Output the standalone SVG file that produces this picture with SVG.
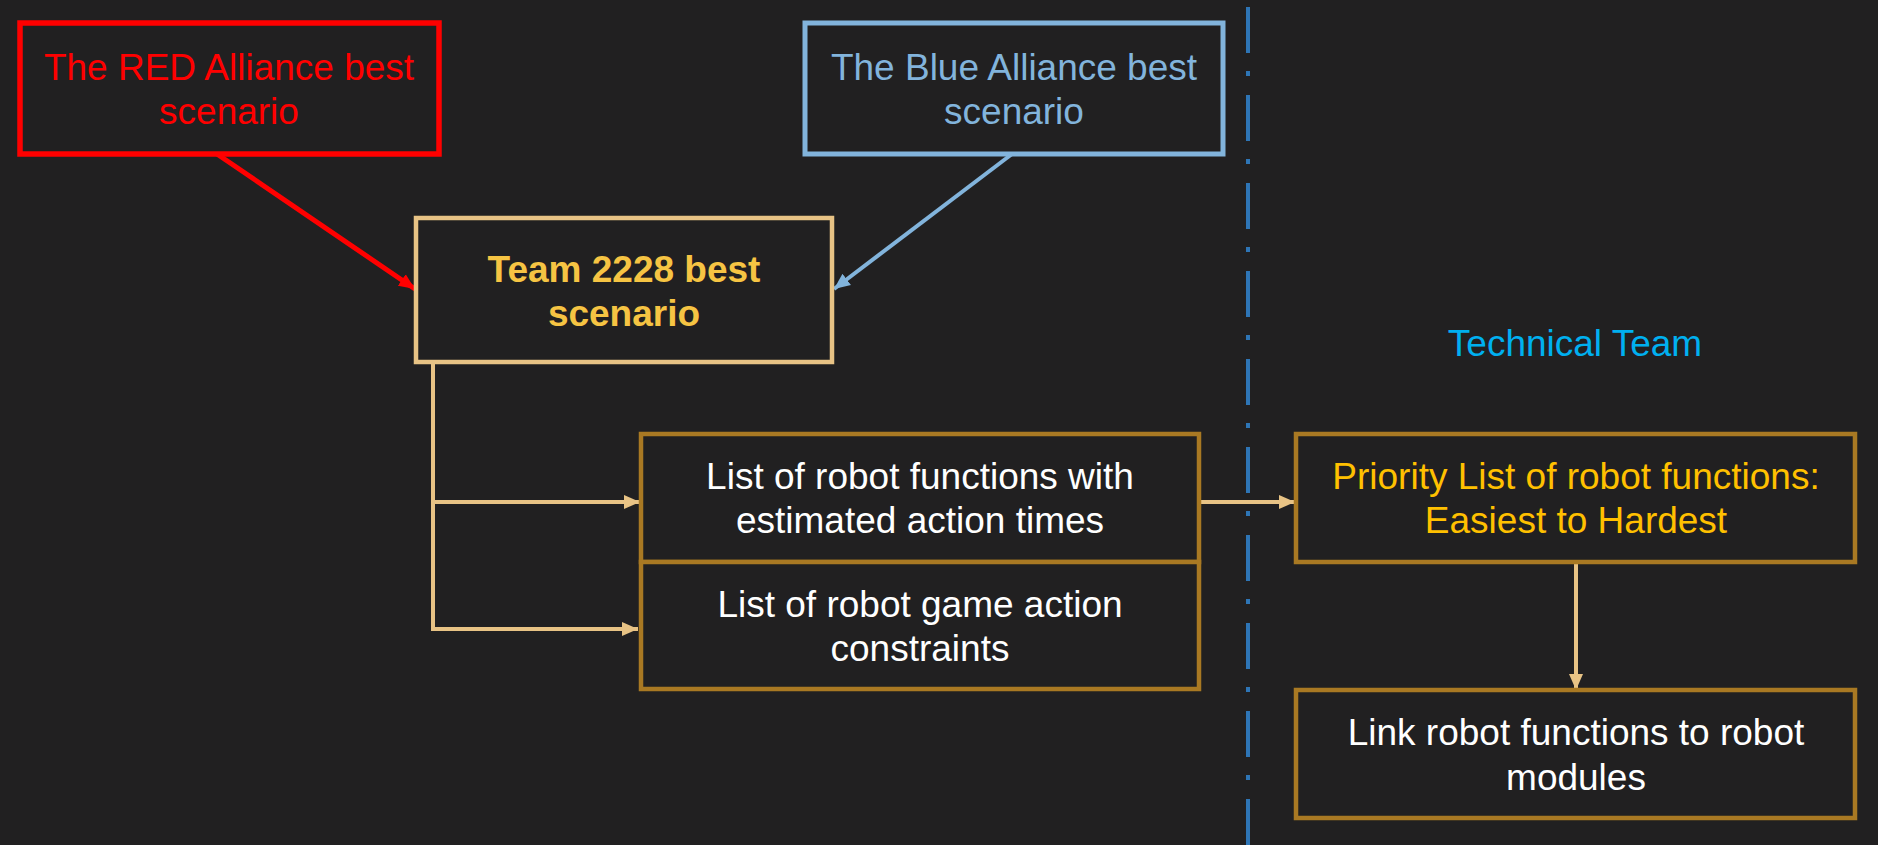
<svg xmlns="http://www.w3.org/2000/svg" width="1878" height="845" viewBox="0 0 1878 845">
<style>
text{font-family:"Liberation Sans",Arial,sans-serif;font-size:37px;text-anchor:middle}
.box{fill:#212021}
.gold{stroke:#A97923;stroke-width:4.5}
.wt{fill:#FFFFFF}
.tan{stroke:#E8C385;stroke-width:4;fill:none}
</style>
<defs>
<marker id="aTan" markerUnits="userSpaceOnUse" markerWidth="18" markerHeight="16" refX="16" refY="8" orient="auto"><path d="M0,1 L16,8 L0,15 Z" fill="#E8C385"/></marker>
<marker id="aRed" markerUnits="userSpaceOnUse" markerWidth="18" markerHeight="16" refX="16" refY="8" orient="auto"><path d="M0,1 L16,8 L0,15 Z" fill="#FF0000"/></marker>
<marker id="aBlue" markerUnits="userSpaceOnUse" markerWidth="18" markerHeight="16" refX="16" refY="8" orient="auto"><path d="M0,1 L16,8 L0,15 Z" fill="#82B4DC"/></marker>
</defs>
<rect x="0" y="0" width="1878" height="845" fill="#212021"/>
<line id="divider" x1="1248" y1="7" x2="1248" y2="845" stroke="#2E75B6" stroke-width="4" stroke-dasharray="46 18 5 19"/>
<text id="tech-label" x="1575" y="356" fill="#00B0F0">Technical Team</text>
<g id="connectors">
<line x1="217" y1="154" x2="415" y2="289" stroke="#FF0000" stroke-width="5" marker-end="url(#aRed)"/>
<line x1="1012" y1="154" x2="834" y2="289" stroke="#82B4DC" stroke-width="4" marker-end="url(#aBlue)"/>
<path class="tan" d="M433 363 V629"/>
<path class="tan" d="M431 502 H640" marker-end="url(#aTan)"/>
<path class="tan" d="M431 629 H638" marker-end="url(#aTan)"/>
<path class="tan" d="M1201 502 H1295" marker-end="url(#aTan)"/>
<path class="tan" d="M1576 564 V690" marker-end="url(#aTan)"/>
</g>
<g id="red-alliance">
<rect class="box" x="20" y="23" width="419" height="131" stroke="#FF0000" stroke-width="5.5"/>
<text x="229" y="80" fill="#FF0000">The RED Alliance best</text>
<text x="229" y="124" fill="#FF0000">scenario</text>
</g>
<g id="blue-alliance">
<rect class="box" x="805" y="23" width="418" height="131" stroke="#82B4DC" stroke-width="5"/>
<text x="1014" y="80" fill="#82B4DC">The Blue Alliance best</text>
<text x="1014" y="124" fill="#82B4DC">scenario</text>
</g>
<g id="team-2228">
<rect class="box" x="416" y="218" width="416" height="144" stroke="#E8C385" stroke-width="4.5"/>
<text x="624" y="282" fill="#F6C443" font-weight="bold">Team 2228 best</text>
<text x="624" y="326" fill="#F6C443" font-weight="bold">scenario</text>
</g>
<g id="functions-list">
<rect class="box gold" x="641" y="434" width="558" height="128"/>
<text class="wt" x="920" y="489">List of robot functions with</text>
<text class="wt" x="920" y="533">estimated action times</text>
</g>
<g id="constraints-list">
<rect class="box gold" x="641" y="562" width="558" height="127"/>
<text class="wt" x="920" y="617">List of robot game action</text>
<text class="wt" x="920" y="661">constraints</text>
</g>
<g id="priority-list">
<rect class="box gold" x="1296" y="434" width="559" height="128"/>
<text x="1576" y="489" fill="#FFC000">Priority List of robot functions:</text>
<text x="1576" y="533" fill="#FFC000">Easiest to Hardest</text>
</g>
<g id="link-modules">
<rect class="box gold" x="1296" y="690" width="559" height="128"/>
<text class="wt" x="1576" y="745">Link robot functions to robot</text>
<text class="wt" x="1576" y="790">modules</text>
</g>
</svg>
